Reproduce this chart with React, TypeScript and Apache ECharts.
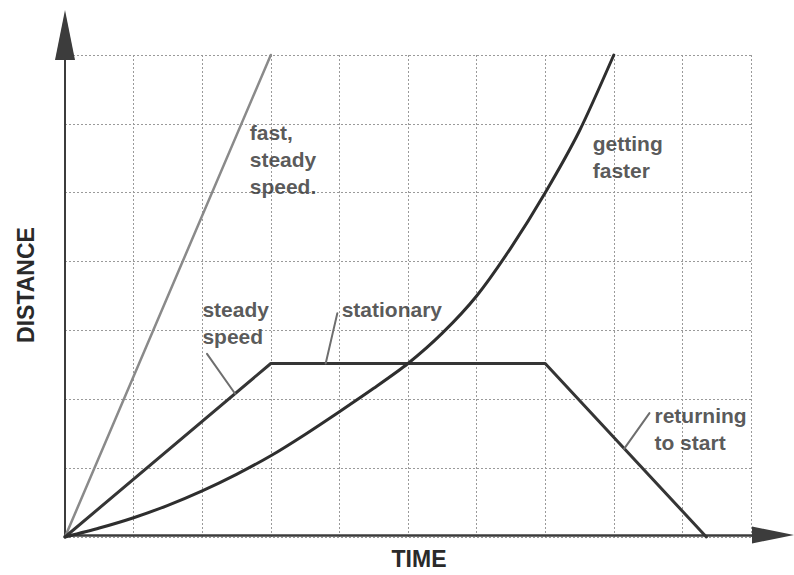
import React, { useEffect, useRef } from "react";
import * as echarts from "echarts";

// Axis extents (time units, distance units)
const timeMax = 10;
const distanceMax = 7;

// Series (time, distance)
const fastSteadyData = [
  [0, 0],
  [3, 7],
];
const steadySpeedData = [
  [0, 0],
  [3, 2.52],
  [7, 2.52],
  [9.35, 0],
];
const gettingFasterData = [
  [0, 0],
  [0.5, 0.13],
  [1, 0.28],
  [1.5, 0.46],
  [2, 0.67],
  [2.5, 0.91],
  [3, 1.18],
  [3.5, 1.49],
  [4, 1.82],
  [4.5, 2.16],
  [5, 2.52],
  [5.5, 2.96],
  [6, 3.5],
  [6.5, 4.2],
  [7, 5.0],
  [7.5, 5.9],
  [8, 7.0],
];

// Annotation texts and their anchor (top-left) in data units
const annotationTexts = ["fast,\nsteady\nspeed.", "getting\nfaster", "steady\nspeed", "stationary", "returning\nto start"];
const annotationX = [2.7, 7.7, 2.01, 4.04, 8.6];
const annotationY = [6.07, 5.9, 3.5, 3.5, 1.96];

// Leader lines
const steadyLeader = [
  [2.07, 2.66],
  [2.48, 2.08],
];
const stationaryLeader = [
  [3.97, 3.25],
  [3.9, 2.95],
  [3.8, 2.52],
];
const returningLeader = [
  [8.52, 1.8],
  [8.15, 1.28],
];

const FONT = "'Liberation Sans', Arial, Helvetica, sans-serif";

export default function App() {
  const ref = useRef<HTMLDivElement>(null);

  useEffect(() => {
    if (!ref.current) return;
    const chart = echarts.init(ref.current, undefined, { renderer: "svg" });

    const annotations = annotationTexts.map((t, i) => [annotationX[i], annotationY[i], t]);

    const lineSeries = (name: string, data: number[][], color: string, width: number, smooth: number | false = false) => ({
      name,
      type: "line",
      xAxisIndex: 0,
      yAxisIndex: 0,
      data,
      smooth,
      showSymbol: false,
      symbol: "none",
      clip: false,
      lineStyle: { color, width, cap: "round", join: "round" },
      z: 3,
    });

    chart.setOption({
      animation: false,
      backgroundColor: "#ffffff",
      grid: [
        { left: 65, right: 43, top: 55, bottom: 38 },
        { left: 65, right: 21, top: 35, bottom: 38 },
      ],
      xAxis: [
        {
          type: "value",
          gridIndex: 0,
          min: 0,
          max: timeMax,
          interval: 1,
          axisLine: { show: false },
          axisTick: { show: false },
          axisLabel: { show: false },
          splitLine: { show: true, lineStyle: { color: "#9a9a9a", width: 1, type: [2, 2] } },
        },
        {
          type: "value",
          gridIndex: 1,
          min: 0,
          max: 1,
          axisLine: {
            show: true,
            lineStyle: { color: "#3c3c3c", width: 2.5 },
            symbol: ["none", "triangle"],
            symbolSize: [17, 42],
          },
          axisTick: { show: false },
          axisLabel: { show: false },
          splitLine: { show: false },
          name: "TIME",
          nameLocation: "middle",
          nameGap: 12,
          nameTextStyle: { fontFamily: FONT, fontSize: 23, fontWeight: "bold", color: "#2a2a2a", verticalAlign: "top" },
        },
      ],
      yAxis: [
        {
          type: "value",
          gridIndex: 0,
          min: 0,
          max: distanceMax,
          interval: 1,
          axisLine: { show: false },
          axisTick: { show: false },
          axisLabel: { show: false },
          splitLine: { show: true, lineStyle: { color: "#9a9a9a", width: 1, type: [2, 2] } },
        },
        {
          type: "value",
          gridIndex: 1,
          min: 0,
          max: 1,
          axisLine: {
            show: true,
            lineStyle: { color: "#3c3c3c", width: 2 },
            symbol: ["none", "triangle"],
            symbolSize: [20, 50],
          },
          axisTick: { show: false },
          axisLabel: { show: false },
          splitLine: { show: false },
          name: "DISTANCE",
          nameLocation: "middle",
          nameRotate: 90,
          nameGap: 28,
          nameTextStyle: { fontFamily: FONT, fontSize: 23, fontWeight: "bold", color: "#2a2a2a" },
        },
      ],
      series: [
        lineSeries("fast, steady speed", fastSteadyData, "#8a8a8a", 2.5),
        lineSeries("steady speed", steadySpeedData, "#353535", 3),
        lineSeries("getting faster", gettingFasterData, "#2e2e2e", 3, 0.25),
        lineSeries("steady leader", steadyLeader, "#6e6e6e", 2),
        lineSeries("stationary leader", stationaryLeader, "#6e6e6e", 2),
        lineSeries("returning leader", returningLeader, "#6e6e6e", 2),
        {
          name: "annotations",
          type: "scatter",
          xAxisIndex: 0,
          yAxisIndex: 0,
          data: annotations,
          symbol: "circle",
          symbolSize: 1,
          itemStyle: { color: "rgba(0,0,0,0)" },
          clip: false,
          z: 5,
          label: {
            show: true,
            position: [0, 0],
            align: "left",
            verticalAlign: "top",
            formatter: (p: any) => p.data[2],
            fontFamily: FONT,
            fontSize: 21,
            fontWeight: "bold",
            lineHeight: 27,
            color: "#2e2e2e",
          },
        },
      ],
    });

    return () => chart.dispose();
  }, []);

  return (
    <div
      ref={ref}
      style={{ position: "fixed", left: 0, top: 0, width: 794, height: 575, background: "#fff" }}
    />
  );
}
